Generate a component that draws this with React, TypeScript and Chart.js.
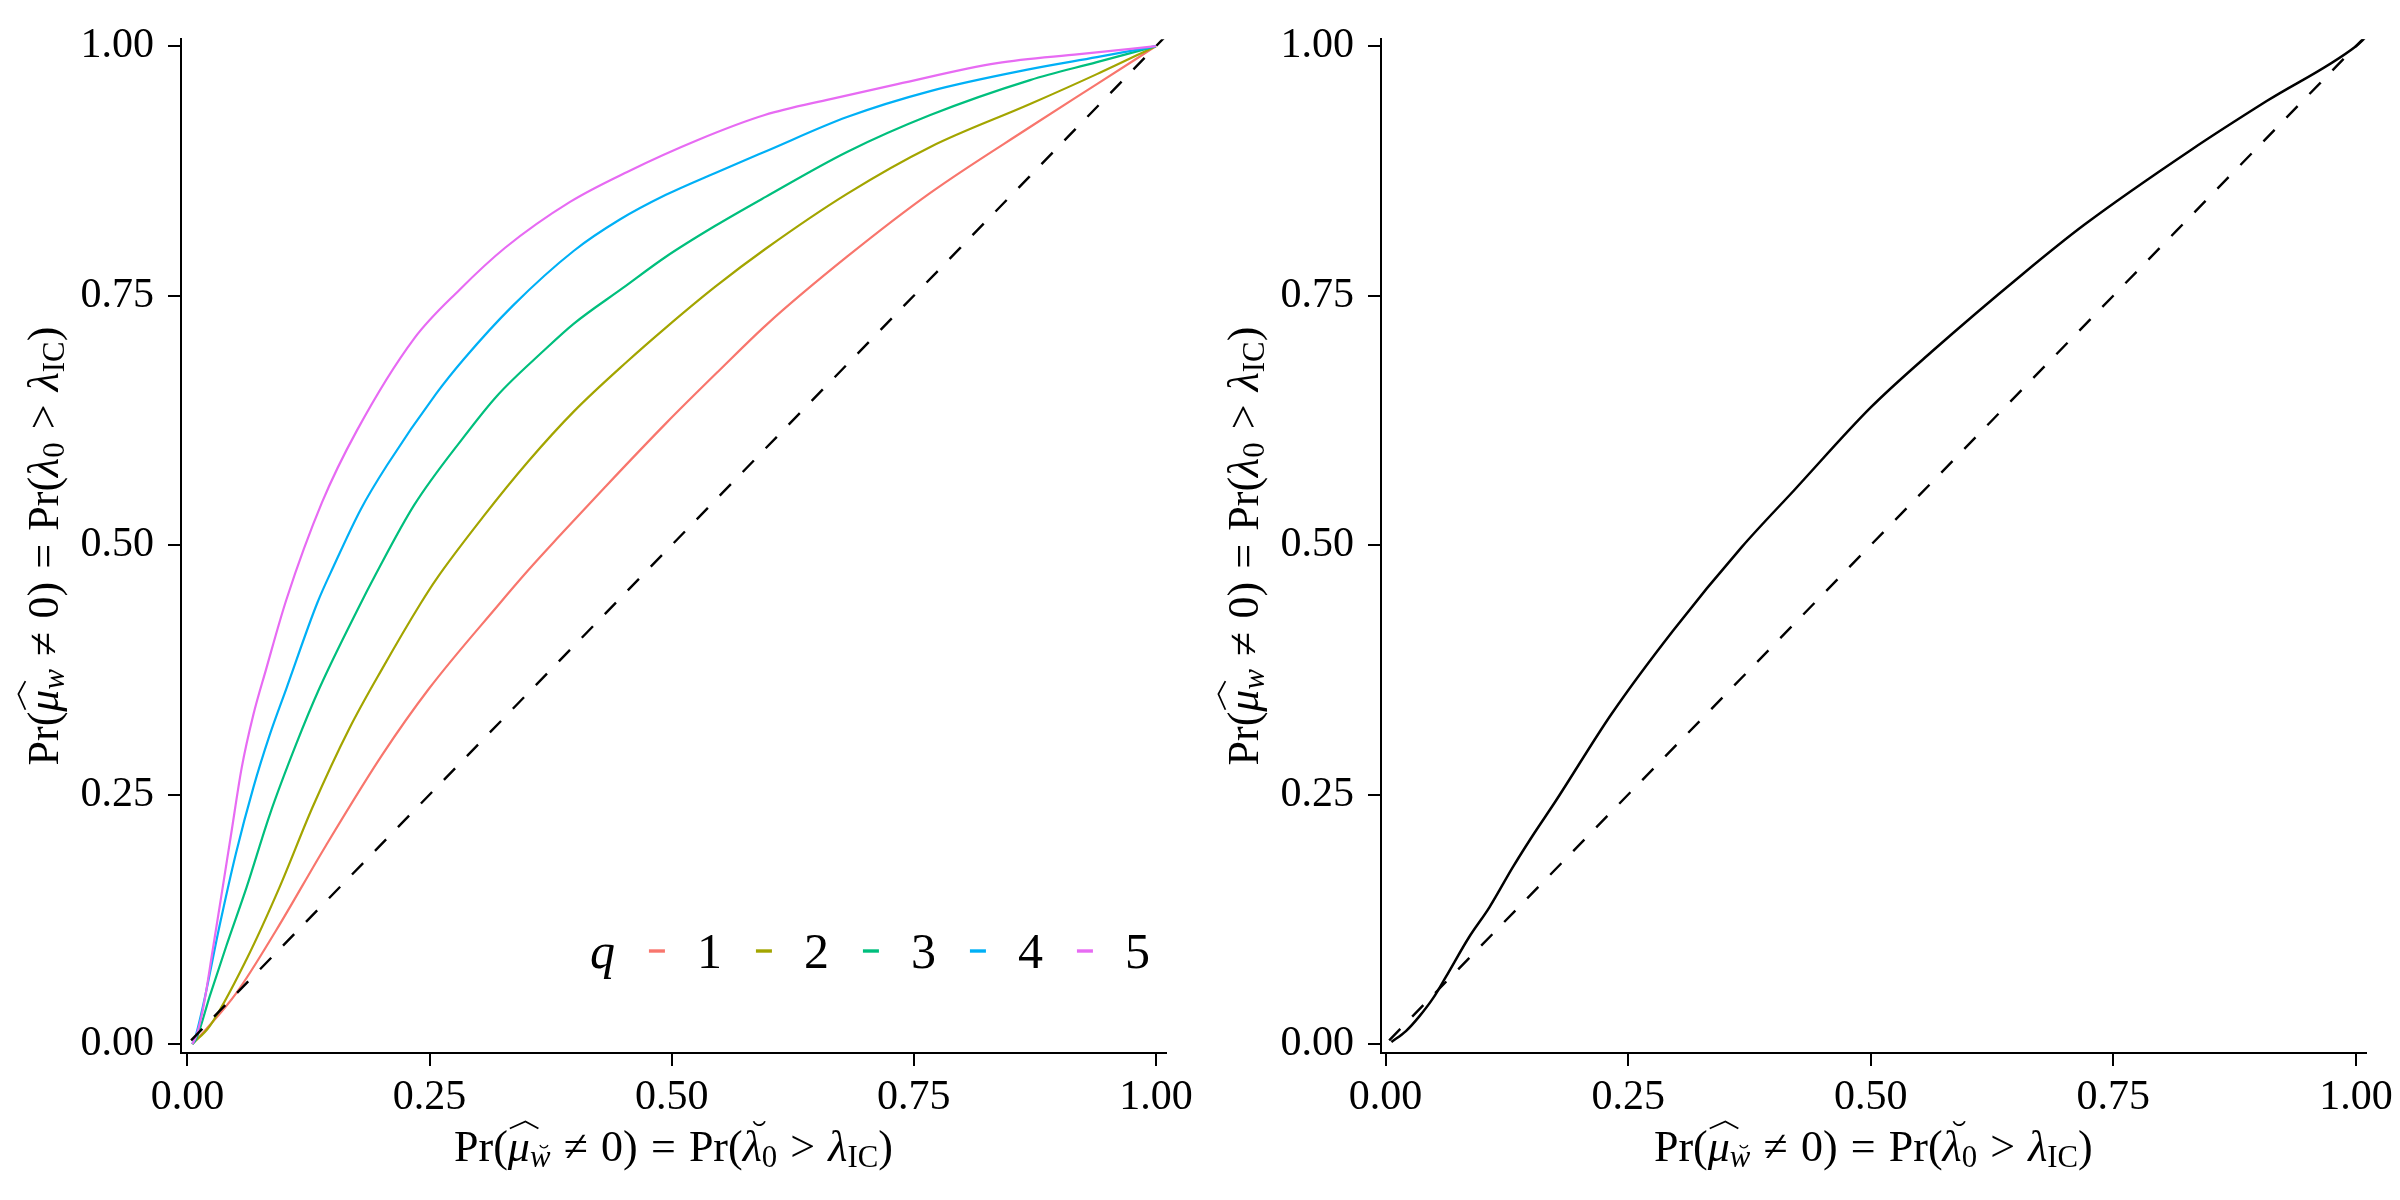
import { useEffect, useRef } from "react";
import { Chart, registerables, type ChartConfiguration, type Plugin } from "chart.js";

Chart.register(...registerables);

const TICKS = [0, 0.25, 0.5, 0.75, 1];
const Q_LABELS = ["1", "2", "3", "4", "5"];
const Q_COLORS = ["#F8766D", "#A3A500", "#00BF7D", "#00B0F6", "#E76BF3"];

// left panel: one curve per q
const q1X = [0.005, 0.0195, 0.0504, 0.0916, 0.143, 0.2012, 0.2493, 0.321, 0.352, 0.383, 0.431, 0.494, 0.549, 0.598, 0.681, 0.767, 0.87, 0.939, 1.0];
const q1Y = [0, 0.015, 0.051, 0.114, 0.199, 0.29, 0.356, 0.44, 0.475, 0.508, 0.558, 0.622, 0.675, 0.721, 0.789, 0.853, 0.919, 0.962, 1.0];

const q2X = [0.005, 0.023, 0.061, 0.095, 0.129, 0.167, 0.201, 0.241, 0.257, 0.305, 0.352, 0.399, 0.454, 0.494, 0.545, 0.597, 0.681, 0.767, 0.87, 0.939, 1.0];
const q2Y = [0, 0.018, 0.085, 0.157, 0.237, 0.316, 0.376, 0.442, 0.466, 0.528, 0.584, 0.634, 0.684, 0.718, 0.759, 0.797, 0.852, 0.899, 0.942, 0.972, 1.0];

const q3X = [0.005, 0.009, 0.023, 0.04, 0.061, 0.085, 0.112, 0.136, 0.177, 0.194, 0.234, 0.285, 0.32, 0.368, 0.399, 0.45, 0.494, 0.545, 0.597, 0.681, 0.767, 0.87, 0.939, 1.0];
const q3Y = [0, 0.005, 0.048, 0.098, 0.157, 0.23, 0.3, 0.356, 0.438, 0.47, 0.54, 0.608, 0.65, 0.695, 0.722, 0.758, 0.789, 0.82, 0.849, 0.894, 0.931, 0.966, 0.984, 1.0];

const q4X = [0.005, 0.0075, 0.016, 0.033, 0.05, 0.068, 0.085, 0.102, 0.134, 0.151, 0.179, 0.206, 0.257, 0.285, 0.336, 0.399, 0.446, 0.494, 0.545, 0.598, 0.681, 0.767, 0.87, 0.939, 1.0];
const q4Y = [0, 0.005, 0.038, 0.118, 0.191, 0.257, 0.31, 0.356, 0.442, 0.479, 0.536, 0.58, 0.652, 0.686, 0.74, 0.795, 0.826, 0.851, 0.873, 0.895, 0.929, 0.955, 0.977, 0.989, 1.0];

const q5X = [0.005, 0.009, 0.016, 0.026, 0.037, 0.045, 0.056, 0.068, 0.081, 0.102, 0.139, 0.175, 0.234, 0.281, 0.328, 0.395, 0.454, 0.527, 0.596, 0.664, 0.733, 0.836, 0.921, 1.0];
const q5Y = [0, 0.008, 0.035, 0.094, 0.161, 0.21, 0.277, 0.33, 0.375, 0.445, 0.543, 0.615, 0.707, 0.756, 0.798, 0.844, 0.874, 0.906, 0.931, 0.947, 0.962, 0.983, 0.992, 1.0];

// right panel
const pooledX = [0.006, 0.021, 0.035, 0.049, 0.062, 0.086, 0.107, 0.131, 0.151, 0.175, 0.233, 0.296, 0.367, 0.422, 0.5, 0.563, 0.657, 0.72, 0.83, 0.908, 1.0, 1.01];
const pooledY = [0.002, 0.013, 0.028, 0.046, 0.067, 0.107, 0.137, 0.177, 0.208, 0.243, 0.331, 0.414, 0.498, 0.556, 0.638, 0.694, 0.772, 0.821, 0.896, 0.945, 1.0, 1.009];

// y = x reference line
const diagX = [-0.02, 1.02];
const diagY = [-0.02, 1.02];

const SERIF = '"Liberation Serif", "DejaVu Serif", serif';

const pts = (xs: number[], ys: number[]) => xs.map((x, i) => ({ x, y: ys[i] }));

type Seg = { t: string; it?: boolean; sub?: boolean; pad?: number; acc?: "hat" | "breve"; at?: number };

const REL = 0.3;
const Y_TITLE: Seg[] = [
  { t: "Pr(" },
  { t: "μ", it: true, acc: "hat", at: 0.74 },
  { t: "w", it: true, sub: true },
  { t: "≠", pad: REL },
  { t: "0)" },
  { t: "=", pad: REL },
  { t: "Pr(" },
  { t: "λ", it: true },
  { t: "0", sub: true },
  { t: ">", pad: REL },
  { t: "λ", it: true },
  { t: "IC", sub: true },
  { t: ")" },
];
const X_TITLE: Seg[] = [
  { t: "Pr(" },
  { t: "μ", it: true, acc: "hat", at: 0.74 },
  { t: "w", it: true, sub: true, acc: "breve", at: 0.6 },
  { t: "≠", pad: REL },
  { t: "0)" },
  { t: "=", pad: REL },
  { t: "Pr(" },
  { t: "λ", it: true, acc: "breve", at: 0.8 },
  { t: "0", sub: true },
  { t: ">", pad: REL },
  { t: "λ", it: true },
  { t: "IC", sub: true },
  { t: ")" },
];

function drawMath(ctx: CanvasRenderingContext2D, segs: Seg[], size: number, x: number, y: number, angle: number) {
  const fsOf = (s: Seg) => (s.sub ? size * 0.7 : size);
  const fontOf = (s: Seg) => `${s.it ? "italic " : ""}${fsOf(s)}px ${SERIF}`;
  const widths = segs.map((s) => {
    ctx.font = fontOf(s);
    return ctx.measureText(s.t).width;
  });
  const total = segs.reduce((sum, s, i) => sum + widths[i] + 2 * (s.pad ?? 0) * size, 0);

  ctx.save();
  ctx.translate(x, y);
  ctx.rotate(angle);
  ctx.fillStyle = "#000";
  ctx.strokeStyle = "#000";
  ctx.textAlign = "left";
  ctx.textBaseline = "alphabetic";
  let cx = -total / 2;
  segs.forEach((s, i) => {
    const fs = fsOf(s);
    const dy = s.sub ? size * 0.13 : 0;
    cx += (s.pad ?? 0) * size;
    ctx.font = fontOf(s);
    ctx.fillText(s.t, cx, dy);
    if (s.acc) {
      const w = widths[i];
      const base = dy - fs * (s.at ?? 0.7);
      const slant = fs * (s.at ?? 0.7) * 0.2;
      ctx.lineWidth = Math.max(1.3, fs * 0.04);
      ctx.beginPath();
      if (s.acc === "hat") {
        ctx.moveTo(cx + slant * 0.3, base);
        ctx.lineTo(cx + w / 2 + slant, base - fs * 0.16);
        ctx.lineTo(cx + w + slant * 1.3, base);
      } else {
        const r = fs * 0.14;
        ctx.arc(cx + w / 2 + slant, base - r * 1.1, r, 0.12 * Math.PI, 0.88 * Math.PI);
      }
      ctx.stroke();
    }
    cx += widths[i] + (s.pad ?? 0) * size;
  });
  ctx.restore();
}

const mathTitles: Plugin<"line"> = {
  id: "mathTitles",
  afterDraw(chart) {
    const { ctx, chartArea } = chart;
    drawMath(ctx, X_TITLE, 44, (chartArea.left + chartArea.right) / 2, chartArea.bottom + 108, 0);
    drawMath(ctx, Y_TITLE, 44, 58, (chartArea.top + chartArea.bottom) / 2, -Math.PI / 2);
  },
};

// legend for q, drawn inside the panel at the lower right
const qLegend: Plugin<"line"> = {
  id: "qLegend",
  afterDraw(chart) {
    const { ctx, chartArea } = chart;
    const size = 50;
    const baseY = chartArea.bottom - 85;
    const keyY = chartArea.bottom - 102;
    const items = chart.data.datasets.filter((d) => Q_LABELS.includes(String(d.label)));
    const KEY = 16, G1 = 32, G2 = 34, GQ = 34;

    ctx.save();
    ctx.font = `${size}px ${SERIF}`;
    const widths = items.map((d) => ctx.measureText(String(d.label)).width);
    ctx.font = `italic ${size}px ${SERIF}`;
    const qW = ctx.measureText("q").width;
    let total = qW + GQ;
    items.forEach((_, i) => (total += KEY + G1 + widths[i] + (i < items.length - 1 ? G2 : 0)));

    let x = chartArea.right - 16 - total;
    ctx.fillStyle = "#000";
    ctx.textAlign = "left";
    ctx.textBaseline = "alphabetic";
    ctx.fillText("q", x, baseY);
    x += qW + GQ;
    ctx.font = `${size}px ${SERIF}`;
    items.forEach((d, i) => {
      ctx.strokeStyle = String(d.borderColor);
      ctx.lineWidth = 3.4;
      ctx.lineCap = "butt";
      ctx.beginPath();
      ctx.moveTo(x, keyY);
      ctx.lineTo(x + KEY, keyY);
      ctx.stroke();
      x += KEY + G1;
      ctx.fillText(String(d.label), x, baseY);
      x += widths[i] + G2;
    });
    ctx.restore();
  },
};

function makeOptions(xMin: number, xMax: number): ChartConfiguration<"line">["options"] {
  const tickFont = { family: SERIF, size: 42 };
  const grid = {
    display: true,
    drawOnChartArea: false,
    drawTicks: true,
    tickLength: 13,
    tickWidth: 2,
    tickColor: "#000",
    lineWidth: 2,
    color: "#000",
  };
  return {
    responsive: true,
    maintainAspectRatio: false,
    animation: false,
    events: [],
    layout: { padding: { top: 31, right: 29, left: 0, bottom: 0 } },
    plugins: { legend: { display: false }, tooltip: { enabled: false } },
    elements: { point: { radius: 0 }, line: { cubicInterpolationMode: "monotone" } },
    scales: {
      x: {
        type: "linear",
        min: xMin,
        max: xMax,
        afterBuildTicks: (s) => {
          s.ticks = TICKS.map((value) => ({ value }));
        },
        afterFit: (s) => {
          s.height = 147;
        },
        border: { display: true, color: "#000", width: 2 },
        grid,
        ticks: { color: "#000", font: tickFont, padding: 7, maxRotation: 0, callback: (v) => Number(v).toFixed(2) },
      },
      y: {
        type: "linear",
        min: -0.009,
        max: 1.007,
        afterBuildTicks: (s) => {
          s.ticks = TICKS.map((value) => ({ value }));
        },
        afterFit: (s) => {
          s.width = 181;
        },
        border: { display: true, color: "#000", width: 2 },
        grid,
        ticks: { color: "#000", font: tickFont, padding: 14, callback: (v) => Number(v).toFixed(2) },
      },
    },
  };
}

const qSeries = [
  [q1X, q1Y],
  [q2X, q2Y],
  [q3X, q3Y],
  [q4X, q4Y],
  [q5X, q5Y],
];

const leftConfig: ChartConfiguration<"line"> = {
  type: "line",
  data: {
    datasets: [
      ...qSeries.map(([xs, ys], i) => ({
        label: Q_LABELS[i],
        data: pts(xs, ys),
        borderColor: Q_COLORS[i],
        borderWidth: 2.2,
        order: 5 - i,
      })),
      {
        label: "y = x",
        data: pts(diagX, diagY),
        borderColor: "#000",
        borderWidth: 2.4,
        borderDash: [16, 17],
        order: 0,
      },
    ],
  },
  options: makeOptions(-0.0067, 1.0103),
  plugins: [mathTitles, qLegend],
};

const rightConfig: ChartConfiguration<"line"> = {
  type: "line",
  data: {
    datasets: [
      { label: "pooled", data: pts(pooledX, pooledY), borderColor: "#000", borderWidth: 2.5, order: 1 },
      { label: "y = x", data: pts(diagX, diagY), borderColor: "#000", borderWidth: 2.4, borderDash: [16, 17], order: 0 },
    ],
  },
  options: makeOptions(-0.0047, 1.0101),
  plugins: [mathTitles],
};

function Panel({ config }: { config: ChartConfiguration<"line"> }) {
  const canvasRef = useRef<HTMLCanvasElement>(null);

  useEffect(() => {
    if (!canvasRef.current) return;
    const chart = new Chart(canvasRef.current, config);
    return () => chart.destroy();
  }, [config]);

  return (
    <div style={{ position: "relative", width: 1200, height: 1200 }}>
      <canvas ref={canvasRef} role="img" aria-label="Rejection probability comparison" />
    </div>
  );
}

export default function App() {
  return (
    <div style={{ position: "fixed", left: 0, top: 0, width: 2400, height: 1200, display: "flex", background: "#fff" }}>
      <Panel config={leftConfig} />
      <Panel config={rightConfig} />
    </div>
  );
}
